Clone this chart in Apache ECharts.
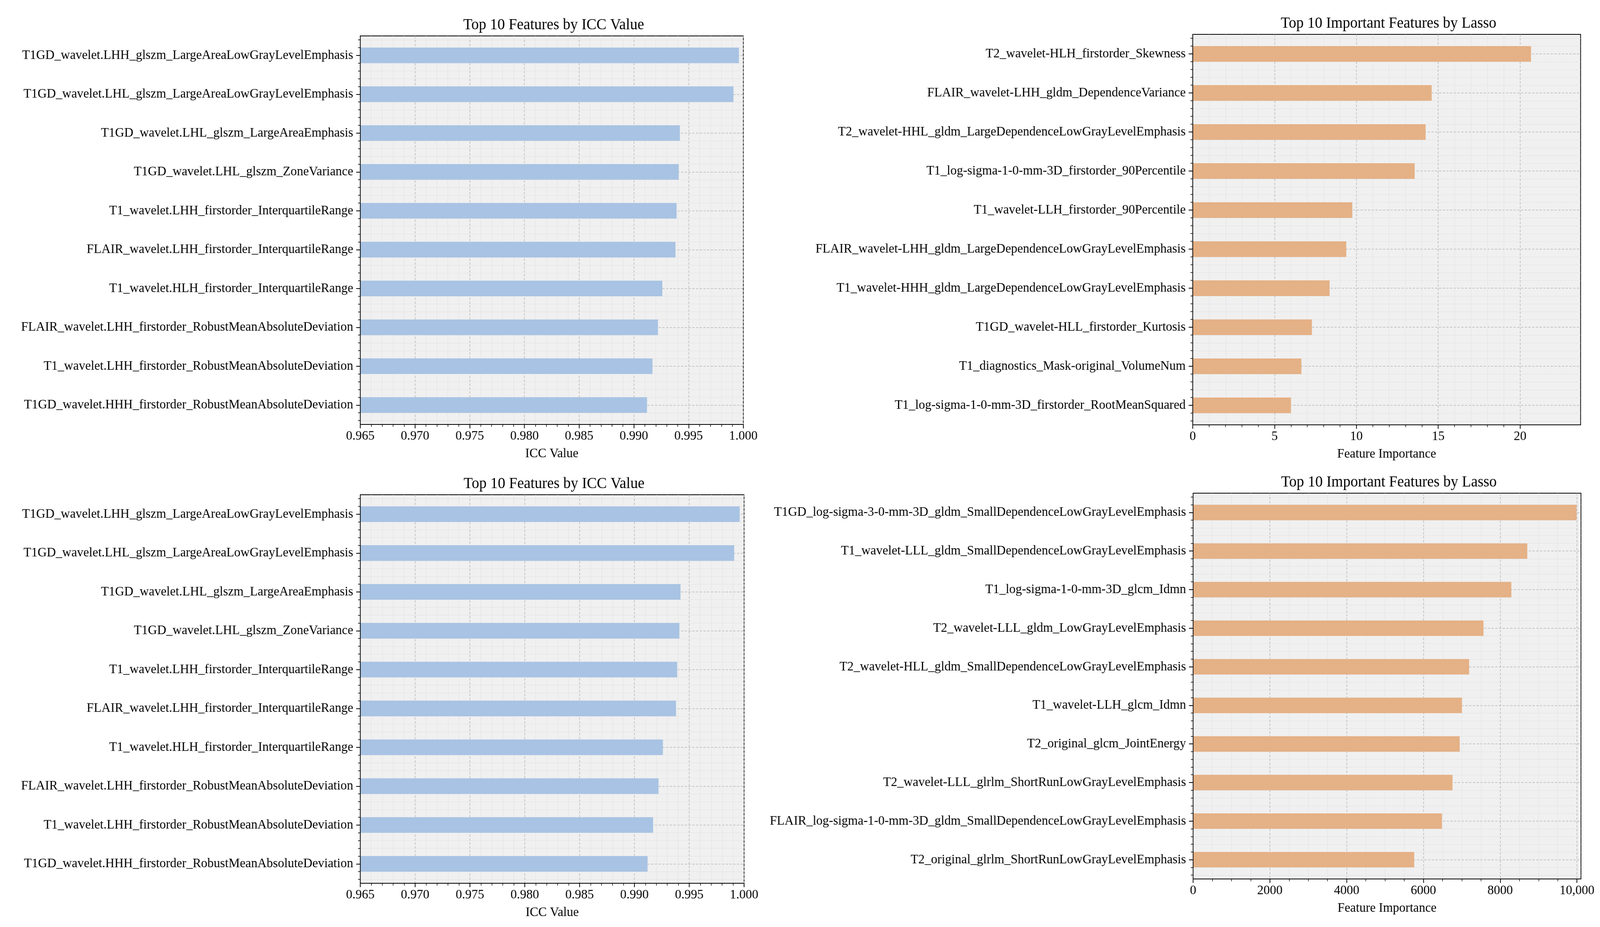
<!DOCTYPE html>
<html>
<head>
<meta charset="utf-8">
<script src="https://cdn.jsdelivr.net/npm/echarts@6/dist/echarts.min.js"></script>
<style>
  html, body { margin: 0; padding: 0; background: #fff; overflow: hidden; }
  #main { width: 4290px; height: 2374px; transform-origin: 0 0; }
</style>
</head>
<body>
<div id="main"></div>
<script>
// data (top to bottom in each panel)
var iccFeatures = [
  'T1GD_wavelet.LHH_glszm_LargeAreaLowGrayLevelEmphasis',
  'T1GD_wavelet.LHL_glszm_LargeAreaLowGrayLevelEmphasis',
  'T1GD_wavelet.LHL_glszm_LargeAreaEmphasis',
  'T1GD_wavelet.LHL_glszm_ZoneVariance',
  'T1_wavelet.LHH_firstorder_InterquartileRange',
  'FLAIR_wavelet.LHH_firstorder_InterquartileRange',
  'T1_wavelet.HLH_firstorder_InterquartileRange',
  'FLAIR_wavelet.LHH_firstorder_RobustMeanAbsoluteDeviation',
  'T1_wavelet.LHH_firstorder_RobustMeanAbsoluteDeviation',
  'T1GD_wavelet.HHH_firstorder_RobustMeanAbsoluteDeviation'
];
var iccValues = [0.9996, 0.9991, 0.9942, 0.9941, 0.9939, 0.9938, 0.9926, 0.9922, 0.9917, 0.9912];

var lassoFeaturesTop = [
  'T2_wavelet-HLH_firstorder_Skewness',
  'FLAIR_wavelet-LHH_gldm_DependenceVariance',
  'T2_wavelet-HHL_gldm_LargeDependenceLowGrayLevelEmphasis',
  'T1_log-sigma-1-0-mm-3D_firstorder_90Percentile',
  'T1_wavelet-LLH_firstorder_90Percentile',
  'FLAIR_wavelet-LHH_gldm_LargeDependenceLowGrayLevelEmphasis',
  'T1_wavelet-HHH_gldm_LargeDependenceLowGrayLevelEmphasis',
  'T1GD_wavelet-HLL_firstorder_Kurtosis',
  'T1_diagnostics_Mask-original_VolumeNum',
  'T1_log-sigma-1-0-mm-3D_firstorder_RootMeanSquared'
];
var lassoValuesTop = [20.67, 14.60, 14.23, 13.56, 9.75, 9.38, 8.36, 7.28, 6.64, 6.00];

var lassoFeaturesBottom = [
  'T1GD_log-sigma-3-0-mm-3D_gldm_SmallDependenceLowGrayLevelEmphasis',
  'T1_wavelet-LLL_gldm_SmallDependenceLowGrayLevelEmphasis',
  'T1_log-sigma-1-0-mm-3D_glcm_Idmn',
  'T2_wavelet-LLL_gldm_LowGrayLevelEmphasis',
  'T2_wavelet-HLL_gldm_SmallDependenceLowGrayLevelEmphasis',
  'T1_wavelet-LLH_glcm_Idmn',
  'T2_original_glcm_JointEnergy',
  'T2_wavelet-LLL_glrlm_ShortRunLowGrayLevelEmphasis',
  'FLAIR_log-sigma-1-0-mm-3D_gldm_SmallDependenceLowGrayLevelEmphasis',
  'T2_original_glrlm_ShortRunLowGrayLevelEmphasis'
];
var lassoValuesBottom = [9990, 8705, 8290, 7565, 7190, 7005, 6945, 6757, 6484, 5760];

// tick labels
var iccTicks = [0.965, 0.970, 0.975, 0.980, 0.985, 0.990, 0.995, 1.000];
var lassoTicksTop = [0, 5, 10, 15, 20];
var lassoTicksBottom = [0, 2000, 4000, 6000, 8000, 10000];

var FONT = '"Liberation Serif", "Times New Roman", serif';
var BLUE = '#a8c3e3';
var ORANGE = '#e5b186';

// fit the 4290x2374 drawing into whatever viewport we get
var el = document.getElementById('main');
var sx = (window.innerWidth || 4290) / 4290;
var sy = (window.innerHeight || 2374) / 2374;
el.style.transform = 'scale(' + sx + ',' + sy + ')';

var chart = echarts.init(el);

var option = {
  backgroundColor: '#fff',
  animation: false,
  title: [], grid: [], xAxis: [], yAxis: [], series: []
};

function minorValues(lo, hi, step, majors) {
  var out = [];
  var n = Math.round((hi - lo) / step);
  for (var i = 0; i <= n; i++) {
    var v = +(lo + i * step).toFixed(6);
    var isMajor = majors.some(function (m) { return Math.abs(m - v) < step / 10; });
    if (!isMajor) out.push(v);
  }
  return out;
}

function addPanel(box, title, cats, vals, color, xMin, xMax, majors, minorStep, xName, fmt) {
  var g = option.grid.length;
  option.grid.push({
    left: box.left, top: box.top, width: box.width, height: box.height,
    show: true, backgroundColor: '#f0f0f0', borderColor: '#000', borderWidth: 2
  });
  option.title.push({
    text: title, left: box.left + box.width / 2, top: box.top - 53, textAlign: 'center',
    textStyle: { fontFamily: FONT, fontSize: 40, fontWeight: 'normal', color: '#000' }
  });

  var xi = option.xAxis.length;
  // major x axis
  option.xAxis.push({
    type: 'value', gridIndex: g, position: 'bottom', min: xMin, max: xMax,
    name: xName, nameLocation: 'middle', nameGap: 58,
    nameTextStyle: { fontFamily: FONT, fontSize: 34, color: '#000' },
    axisLine: { show: true, onZero: false, lineStyle: { color: '#000', width: 2 } },
    axisTick: { show: true, length: 10, customValues: majors, lineStyle: { color: '#000', width: 2 } },
    axisLabel: { customValues: majors, margin: 13, fontFamily: FONT, fontSize: 34, color: '#000', formatter: fmt },
    splitLine: { show: true, lineStyle: { color: '#b4b4b4', width: 1.5, type: [6, 4] } }
  });
  // minor x ticks / grid
  option.xAxis.push({
    type: 'value', gridIndex: g, position: 'bottom', min: xMin, max: xMax,
    axisLine: { show: false, onZero: false },
    axisTick: { show: true, length: 6, customValues: minorValues(xMin, majors[majors.length - 1], minorStep, majors), lineStyle: { color: '#000', width: 1.5 } },
    axisLabel: { show: false },
    splitLine: { show: true, lineStyle: { color: '#e2e2e2', width: 1 } }
  });

  var yi = option.yAxis.length;
  var n = cats.length;
  var yMajors = [], yMinors = [];
  for (var i = 0; i < n; i++) yMajors.push(i);
  for (var k = -2; k <= n * 5 - 3; k++) {
    if (k % 5 !== 0) yMinors.push(+(k * 0.2).toFixed(2));
  }
  option.yAxis.push({
    type: 'category', gridIndex: g, position: 'left', inverse: true, data: cats, z: 5,
    axisLine: { show: true, onZero: false, lineStyle: { color: '#000', width: 2 } },
    axisTick: { show: false },
    axisLabel: { margin: 19, fontFamily: FONT, fontSize: 34, color: '#000' },
    splitLine: { show: false }
  });
  option.yAxis.push({
    type: 'value', gridIndex: g, position: 'left', inverse: true, min: -0.5, max: n - 0.5,
    axisLine: { show: false, onZero: false }, axisLabel: { show: false, customValues: yMajors },
    axisTick: { show: true, length: 11, customValues: yMajors, lineStyle: { color: '#000', width: 2 } },
    splitLine: { show: true, lineStyle: { color: '#b4b4b4', width: 1.5, type: [6, 4] } }
  });
  option.yAxis.push({
    type: 'value', gridIndex: g, position: 'left', inverse: true, min: -0.5, max: n - 0.5,
    axisLine: { show: false, onZero: false }, axisLabel: { show: false, customValues: yMinors },
    axisTick: { show: true, length: 6, customValues: yMinors, lineStyle: { color: '#000', width: 1.5 } },
    splitLine: { show: true, lineStyle: { color: '#e2e2e2', width: 1 } }
  });

  option.series.push({
    type: 'bar', xAxisIndex: xi, yAxisIndex: yi, data: vals, barWidth: '40%',
    itemStyle: { color: color }, clip: true, silent: true
  });
}

var iccFmt = function (v) { return v.toFixed(3); };
var intFmt = function (v) { return String(Math.round(v)); };
var bigFmt = function (v) { return v >= 10000 ? v.toLocaleString('en-US') : String(Math.round(v)); };

addPanel({ left: 966, top: 92, width: 1027, height: 995 }, 'Top 10 Features by ICC Value',
  iccFeatures, iccValues, BLUE, 0.965, 1.0, iccTicks, 0.001, 'ICC Value', iccFmt);
addPanel({ left: 3198, top: 88, width: 1040, height: 1000 }, 'Top 10 Important Features by Lasso',
  lassoFeaturesTop, lassoValuesTop, ORANGE, 0, 23.7, lassoTicksTop, 1, 'Feature Importance', intFmt);
addPanel({ left: 966, top: 1267, width: 1029, height: 995 }, 'Top 10 Features by ICC Value',
  iccFeatures, iccValues, BLUE, 0.965, 1.0, iccTicks, 0.001, 'ICC Value', iccFmt);
addPanel({ left: 3199, top: 1263, width: 1040, height: 988 }, 'Top 10 Important Features by Lasso',
  lassoFeaturesBottom, lassoValuesBottom, ORANGE, 0, 10105, lassoTicksBottom, 500, 'Feature Importance', bigFmt);

chart.setOption(option);
</script>
</body>
</html>
